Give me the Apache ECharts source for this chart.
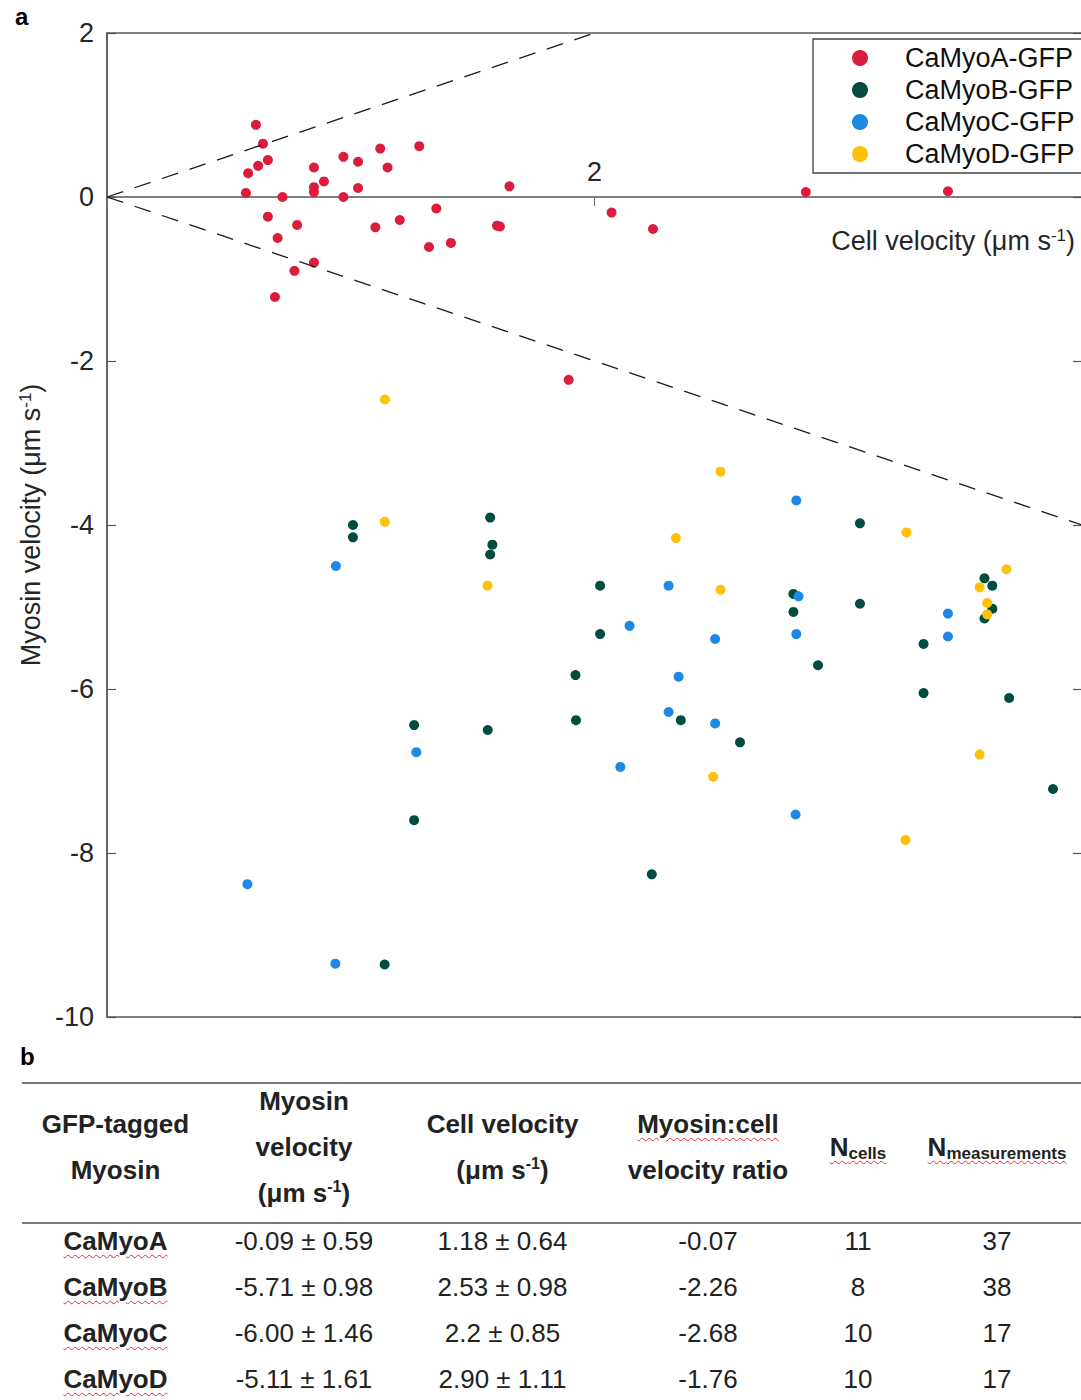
<!DOCTYPE html>
<html>
<head>
<meta charset="utf-8">
<script src="https://cdn.jsdelivr.net/npm/echarts@6/dist/echarts.min.js"></script>
<style>
  html, body { margin:0; padding:0; background:#fff; }
  body { width:1081px; height:1400px; overflow:hidden; position:relative; font-family:'Liberation Sans', Arial, sans-serif; color:#222; }
  #chart { position:absolute; left:0; top:0; width:1085px; height:1040px; }
  .panel { position:absolute; font-weight:bold; font-size:24px; color:#000; line-height:24px; }
  #tbl { position:absolute; left:22px; top:1082px; border-collapse:collapse; table-layout:fixed; width:1066px; font-size:26px; color:#222; }
  #tbl thead tr { border-top:2px solid #7a7a7a; border-bottom:2px solid #7a7a7a; }
  #tbl th { font-weight:bold; height:138px; padding:0; text-align:center; vertical-align:middle; line-height:46px; }
  #tbl th > div { position:relative; top:-6px; }
  #tbl td { height:46px; padding:0; text-align:center; vertical-align:top; line-height:34px; }
  .sq { text-decoration: underline wavy #e0303a; text-decoration-thickness:1px; text-underline-offset:4px; }
  .sup { font-size:16px; vertical-align:10px; line-height:0; }
  .sub { font-size:17px; vertical-align:-3px; line-height:0; }
</style>
</head>
<body>
<div id="chart"></div>
<div class="panel" style="left:15px; top:5px;">a</div>
<div class="panel" style="left:20px; top:1045px;">b</div>
<table id="tbl"></table>
<script>
// ---------- chart data ----------
const seriesNames = ['CaMyoA-GFP', 'CaMyoB-GFP', 'CaMyoC-GFP', 'CaMyoD-GFP'];
const seriesColors = ['#DC1C3C', '#004D40', '#1E88E5', '#FFC107'];

// [cell velocity, myosin velocity]
const myoA = [
  [0.611, 0.88], [0.640, 0.65], [0.660, 0.45], [0.620, 0.38], [0.579, 0.29],
  [0.570, 0.05], [0.720, 0.00], [0.660, -0.24], [0.780, -0.34], [0.700, -0.50],
  [0.849, -0.80], [0.769, -0.90], [0.689, -1.22], [0.849, 0.36], [0.849, 0.12],
  [0.849, 0.06], [0.890, 0.19], [0.970, 0.49], [0.970, 0.00], [1.030, 0.43],
  [1.030, 0.11], [1.121, 0.59], [1.151, 0.36], [1.101, -0.37], [1.201, -0.28],
  [1.281, 0.62], [1.351, -0.14], [1.321, -0.61], [1.411, -0.56], [1.600, -0.35],
  [1.612, -0.36], [1.651, 0.13], [2.070, -0.19], [2.240, -0.39], [2.867, 0.06],
  [3.450, 0.07], [1.894, -2.23]
];
const myoB = [
  [1.009, -4.00], [1.009, -4.15], [1.572, -3.91], [1.581, -4.24], [1.572, -4.36],
  [2.023, -4.74], [2.023, -5.33], [1.922, -5.83], [3.089, -3.98], [2.816, -4.84],
  [2.816, -5.06], [3.089, -4.96], [3.600, -4.65], [3.632, -4.74], [3.632, -5.02],
  [3.600, -5.14], [3.350, -5.45], [2.917, -5.71], [3.350, -6.05], [3.701, -6.11],
  [2.354, -6.38], [2.597, -6.65], [1.260, -6.44], [1.562, -6.50], [1.924, -6.38],
  [1.260, -7.60], [2.235, -8.26], [1.139, -9.36], [3.881, -7.22]
];
const myoC = [
  [0.939, -4.50], [2.144, -5.23], [2.828, -3.70], [2.304, -4.74], [2.837, -4.87],
  [3.450, -5.08], [3.450, -5.36], [2.495, -5.39], [2.828, -5.33], [2.345, -5.85],
  [2.304, -6.28], [2.495, -6.42], [2.106, -6.95], [1.269, -6.77], [2.825, -7.53],
  [0.576, -8.38], [0.937, -9.35]
];
const myoD = [
  [1.140, -2.47], [1.140, -3.96], [1.561, -4.74], [2.517, -3.35], [3.280, -4.09],
  [2.334, -4.16], [2.517, -4.79], [3.690, -4.54], [3.580, -4.76], [3.611, -4.95],
  [3.611, -5.09], [3.580, -6.80], [2.487, -7.07], [3.276, -7.84]
];
// reference lines (ratio +1 and -1)
const ratioUpper = [[0, 0], [2, 2]];
const ratioLower = [[0, 0], [4, -4]];

const xMin = 0, xMax = 4, xStep = 2, xShownTicks = [2];
const yMin = -10, yMax = 2, yStep = 2;
const xName = 'Cell velocity (μm s';
const yName = 'Myosin velocity (μm s';
const unitSup = '-1';

// ---------- table data ----------
const tblMyosin = ['CaMyoA', 'CaMyoB', 'CaMyoC', 'CaMyoD'];
const tblMyoVel = ['-0.09 ± 0.59', '-5.71 ± 0.98', '-6.00 ± 1.46', '-5.11 ± 1.61'];
const tblCellVel = ['1.18 ± 0.64', '2.53 ± 0.98', '2.2 ± 0.85', '2.90 ± 1.11'];
const tblRatio = ['-0.07', '-2.26', '-2.68', '-1.76'];
const tblNCells = ['11', '8', '10', '10'];
const tblNMeas = ['37', '38', '17', '17'];

// ---------- chart ----------
const FONT = "'Liberation Sans', Arial, sans-serif";
const txt = '#262626';
const GRID_TOP = 33, GRID_H = 984;
const chart = echarts.init(document.getElementById('chart'), null, { renderer: 'svg' });
const scatterData = [myoA, myoB, myoC, myoD];
const series = scatterData.map((d, i) => ({
  name: seriesNames[i], type: 'scatter', data: d, symbol: 'circle', symbolSize: 10,
  itemStyle: { color: seriesColors[i], opacity: 1 }, z: 2 + i
}));
[ratioUpper, ratioLower].forEach(d => series.push({
  type: 'line', data: d, showSymbol: false, symbol: 'none', silent: true, z: 10,
  lineStyle: { color: '#1a1a1a', width: 1.3, type: [17, 12] }
}));
// x axis drawn through y = 0: offset from the grid bottom, derived from the y scale
const zeroOffset = -GRID_H * (0 - yMin) / (yMax - yMin);

chart.setOption({
  animation: false,
  textStyle: { fontFamily: FONT },
  grid: { left: 107, top: GRID_TOP, width: 978, height: GRID_H, show: true, borderColor: '#5a5a5a', borderWidth: 1.3 },
  legend: {
    data: seriesNames, orient: 'vertical', left: 813, top: 39, icon: 'circle',
    itemWidth: 16, itemHeight: 16, itemGap: 2, padding: [4, 60, 4, 39],
    backgroundColor: '#fff', borderColor: '#444', borderWidth: 1.3,
    textStyle: { fontSize: 27, color: '#111', lineHeight: 30, fontFamily: FONT, padding: [0, 0, 0, 32] }
  },
  xAxis: {
    type: 'value', min: xMin, max: xMax, interval: xStep, position: 'bottom', offset: zeroOffset,
    axisLine: { show: true, onZero: false, lineStyle: { color: '#555', width: 1.5 } },
    axisTick: { show: true, inside: false, length: 9, lineStyle: { color: '#777', width: 1.2 } },
    axisLabel: { inside: true, margin: 12, fontSize: 27, color: txt,
      formatter: v => xShownTicks.indexOf(v) >= 0 ? String(v) : '' },
    splitLine: { show: false },
    name: xName + '{sup|' + unitSup + '})', nameLocation: 'end', nameGap: -7, nameMoveOverlap: false,
    nameTextStyle: { fontSize: 27, color: txt, align: 'right', verticalAlign: 'top', padding: [30, 0, 0, 0],
      rich: { sup: { fontSize: 17, verticalAlign: 'top', lineHeight: 18 } } }
  },
  yAxis: [{
    type: 'value', min: yMin, max: yMax, interval: yStep, position: 'left',
    axisLine: { show: true, lineStyle: { color: '#555', width: 1.5 } },
    axisTick: { show: true, inside: true, length: 9, lineStyle: { color: '#555', width: 1.2 } },
    axisLabel: { margin: 13, fontSize: 27, color: txt },
    splitLine: { show: false },
    name: yName + '{sup|' + unitSup + '})', nameLocation: 'middle', nameGap: 56, nameRotate: 90,
    nameTextStyle: { fontSize: 27, color: txt, rich: { sup: { fontSize: 17, verticalAlign: 'top', lineHeight: 18 } } }
  }, {
    type: 'value', min: yMin, max: yMax, interval: yStep, position: 'right',
    axisLine: { show: false }, axisLabel: { show: false }, splitLine: { show: false },
    axisTick: { show: true, inside: true, length: 9, lineStyle: { color: '#555', width: 1.2 } }
  }],
  series: series
});

// ---------- table ----------
const tbl = document.getElementById('tbl');
const colW = [187, 190, 207, 204, 96, 182];
let html = '<colgroup>' + colW.map(w => '<col style="width:' + w + 'px">').join('') + '</colgroup>';
html += '<thead><tr>' +
  '<th><div>GFP-tagged<br>Myosin</div></th>' +
  '<th><div>Myosin<br>velocity<br>(μm s<span class="sup">-1</span>)</div></th>' +
  '<th><div>Cell velocity<br>(μm s<span class="sup">-1</span>)</div></th>' +
  '<th><div><span class="sq">Myosin:cell</span><br>velocity ratio</div></th>' +
  '<th><div><span class="sq">N<span class="sub">cells</span></span></div></th>' +
  '<th><div><span class="sq">N<span class="sub">measurements</span></span></div></th>' +
  '</tr></thead><tbody>';
for (let i = 0; i < tblMyosin.length; i++) {
  html += '<tr><td><b class="sq">' + tblMyosin[i] + '</b></td><td>' + tblMyoVel[i] + '</td><td>' +
    tblCellVel[i] + '</td><td>' + tblRatio[i] + '</td><td>' + tblNCells[i] + '</td><td>' + tblNMeas[i] + '</td></tr>';
}
html += '</tbody>';
tbl.innerHTML = html;
</script>
</body>
</html>
